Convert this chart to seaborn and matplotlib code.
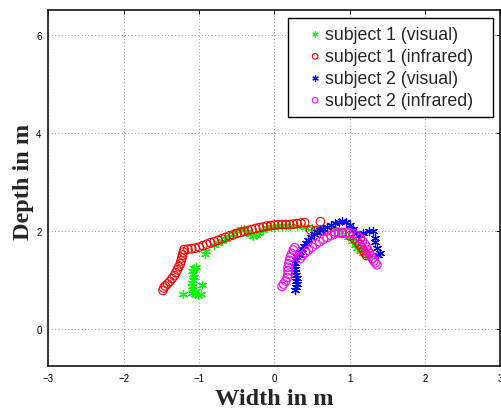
import numpy as np
import pandas as pd
import matplotlib as mpl
mpl.use("Agg")
import matplotlib.pyplot as plt
import seaborn as sns
import warnings
warnings.filterwarnings("ignore")

# subject 1, visual (green asterisks)
s1_vis_x = [-1.22, -1.10, -1.06, -1.02, -0.98, -1.04, -1.08, -1.10, -1.09, -1.08, -1.07, -1.08,
            -1.09, -1.07, -1.04, -0.96, -0.92, -0.91, -0.80, -0.75, -0.70, -0.65, -0.60, -0.55,
            -0.50, -0.45, -0.40, -0.36, -0.32, -0.28, -0.24, -0.20, -0.15, -0.10, -0.05, 0.00,
            0.05, 0.10, 0.15, 0.20, 0.30, 0.40, 0.50, 0.60, 0.70, 0.80, 0.90, 0.98, 1.03, 1.07,
            1.10, 1.13, 1.17, 1.22, 1.25]
s1_vis_y = [0.72, 0.74, 0.72, 0.70, 0.72, 0.78, 0.82, 0.88, 0.94, 1.00, 1.06, 1.12,
            1.18, 1.24, 1.27, 0.89, 1.54, 1.60, 1.72, 1.76, 1.80, 1.84, 1.88, 1.93,
            2.00, 2.05, 2.04, 1.98, 1.94, 1.90, 1.92, 1.95, 2.02, 2.06, 2.08, 2.09,
            2.10, 2.10, 2.10, 2.10, 2.10, 2.08, 2.06, 2.05, 2.08, 2.05, 1.98, 1.88, 1.80, 1.72,
            1.66, 1.60, 1.56, 1.52, 1.48]

# subject 1, infrared (red circles)
s1_ir_x = [-1.48, -1.47, -1.45, -1.42, -1.39, -1.36, -1.33, -1.31, -1.29, -1.27, -1.25, -1.24,
           -1.23, -1.22, -1.21, -1.20, -1.15, -1.10, -1.05, -1.00, -0.95, -0.90, -0.85, -0.80,
           -0.75, -0.70, -0.65, -0.60, -0.55, -0.50, -0.45, -0.40, -0.35, -0.30, -0.25, -0.20,
           -0.15, -0.10, -0.05, 0.00, 0.05, 0.10, 0.15, 0.20, 0.25, 0.30, 0.35, 0.40,
           0.61, 0.48, 0.55, 0.62, 0.70, 0.80, 0.90, 1.00, 1.06, 1.10, 1.13, 1.16, 1.18, 1.20, 1.22]
s1_ir_y = [0.79, 0.84, 0.88, 0.92, 0.97, 1.03, 1.09, 1.15, 1.21, 1.27, 1.33, 1.39,
           1.45, 1.51, 1.57, 1.62, 1.63, 1.64, 1.65, 1.67, 1.70, 1.73, 1.76, 1.78,
           1.81, 1.84, 1.87, 1.90, 1.92, 1.95, 1.97, 1.99, 2.01, 2.03, 2.05, 2.07,
           2.08, 2.10, 2.11, 2.12, 2.13, 2.13, 2.13, 2.13, 2.14, 2.15, 2.16, 2.17,
           2.19, 2.02, 2.01, 2.00, 2.00, 1.98, 1.95, 1.90, 1.84, 1.78, 1.72, 1.66, 1.60, 1.55, 1.50]

# subject 2, visual (blue asterisks)
s2_vis_x = [0.27, 0.29, 0.30, 0.29, 0.30, 0.28, 0.27, 0.27, 0.26, 0.27, 0.28, 0.30,
            0.32, 0.34, 0.36, 0.39, 0.42, 0.45, 0.48, 0.52, 0.56, 0.60, 0.65, 0.70,
            0.75, 0.80, 0.85, 0.90, 0.95, 1.00, 1.04, 1.08, 1.12, 1.18, 1.25, 1.31,
            1.33, 1.33, 1.36, 1.40, 1.38]
s2_vis_y = [0.80, 0.86, 0.92, 0.98, 1.04, 1.10, 1.16, 1.22, 1.28, 1.34, 1.40, 1.46,
            1.52, 1.58, 1.64, 1.70, 1.76, 1.82, 1.88, 1.94, 1.98, 2.02, 2.05, 2.08,
            2.12, 2.16, 2.18, 2.20, 2.18, 2.12, 2.04, 1.96, 1.92, 1.95, 2.00, 2.00,
            1.86, 1.78, 1.66, 1.56, 1.52]

# subject 2, infrared (magenta circles)
s2_ir_x = [0.10, 0.12, 0.15, 0.17, 0.18, 0.18, 0.18, 0.19, 0.20, 0.21, 0.23, 0.25, 0.27,
           0.34, 0.37, 0.41, 0.45, 0.50, 0.55, 0.60, 0.65, 0.70, 0.75, 0.80, 0.85,
           0.90, 0.95, 1.00, 1.05, 1.10, 1.14, 1.17, 1.20, 1.22, 1.24, 1.26, 1.28,
           1.30, 1.32, 1.34, 1.36]
s2_ir_y = [0.87, 0.92, 0.98, 1.05, 1.12, 1.19, 1.26, 1.33, 1.40, 1.47, 1.54, 1.61, 1.66,
           1.44, 1.50, 1.56, 1.61, 1.67, 1.73, 1.78, 1.83, 1.87, 1.91, 1.94, 1.96,
           1.97, 1.97, 1.96, 1.94, 1.90, 1.85, 1.79, 1.73, 1.67, 1.61, 1.55, 1.49,
           1.44, 1.39, 1.35, 1.31]

x_ticks = [-3, -2, -1, 0, 1, 2, 3]
y_ticks = [0, 2, 4, 6]

sns.set_style("white")
plt.rcParams["font.family"] = ["Liberation Sans", "DejaVu Sans"]

fig = plt.figure(figsize=(5.01, 4.10), dpi=100)
ax = fig.add_axes([0.0968, 0.1049, 0.9022, 0.8683])

star = (6, 2, 0)
sns.scatterplot(x=s1_vis_x, y=s1_vis_y, marker=star, color=(0, 1, 0), edgecolor=None,
                s=34, linewidth=0.9, ax=ax, label="subject 1 (visual)", zorder=3)
sns.scatterplot(x=s1_ir_x, y=s1_ir_y, marker="o", facecolor="none", edgecolor=(1, 0, 0),
                s=38, linewidth=0.8, ax=ax, label="subject 1 (infrared)", zorder=4)
sns.scatterplot(x=s2_vis_x, y=s2_vis_y, marker=star, color=(0, 0, 1), edgecolor=None,
                s=34, linewidth=0.9, ax=ax, label="subject 2 (visual)", zorder=5)
sns.scatterplot(x=s2_ir_x, y=s2_ir_y, marker="o", facecolor="none", edgecolor=(1, 0, 1),
                s=38, linewidth=0.8, ax=ax, label="subject 2 (infrared)", zorder=6)

ax.set_xlim(-3, 3)
ax.set_ylim(-0.75, 6.5)
ax.set_xticks(x_ticks)
ax.set_yticks(y_ticks)
ax.set_xticklabels([str(t).replace("-", "\u2212") for t in x_ticks])
ax.grid(True, color="0.45", linestyle=(0, (1, 3)), linewidth=0.6)
ax.tick_params(direction="in", length=3, width=0.7, labelsize=7, top=True, right=True,
               pad=5, colors="black")
for sp in ax.spines.values():
    sp.set_visible(True)
    sp.set_color("black")
    sp.set_linewidth(1.1)

ax.set_xlabel("Width in m", family="Liberation Serif", fontweight="bold", fontsize=17.5,
              va="baseline")
ax.xaxis.set_label_coords(0.5, -0.107)
ax.set_ylabel("Depth in m", family="Liberation Serif", fontweight="bold", fontsize=17.5,
              va="baseline", ha="center", rotation_mode="anchor")
ax.yaxis.set_label_coords(-0.043, 0.52)

leg = ax.legend(loc="upper right", bbox_to_anchor=(0.9569, 0.9775), fontsize=12.8,
                frameon=True, fancybox=False, framealpha=1, edgecolor="black",
                handletextpad=-0.5, labelspacing=0.28, borderpad=0.45, handlelength=2.1,
                borderaxespad=0, markerscale=0.65)
leg.get_frame().set_linewidth(1.0)

# matlab-style legend box: extra room on the right of the labels
frame = leg.get_frame()
_set_bounds = frame.set_bounds
def wide_bounds(*args):
    x, y, w, h = args[0] if len(args) == 1 else args
    _set_bounds(x, y, w + 12, h)
frame.set_bounds = wide_bounds

fig.savefig("out.png", dpi=100)
